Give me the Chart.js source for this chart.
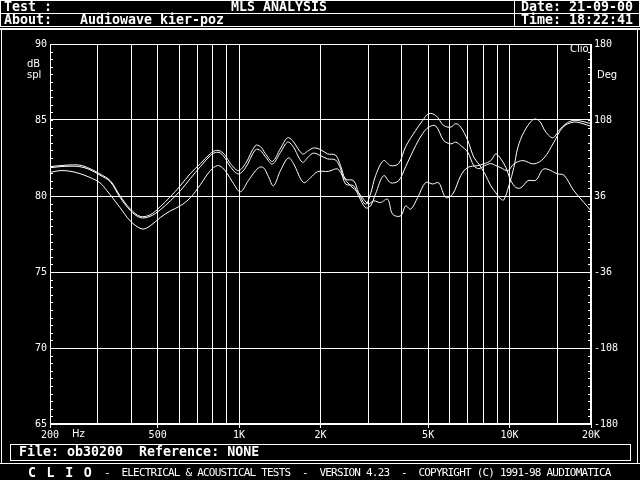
<!DOCTYPE html>
<html>
<head>
<meta charset="utf-8">
<script src="https://cdn.jsdelivr.net/npm/chart.js@4.4.0/dist/chart.umd.min.js"></script>
<style>
  html, body { margin: 0; padding: 0; background: #000; }
  #page { position: relative; width: 640px; height: 480px; overflow: hidden; background: #000; color: #fff;
          font-family: "DejaVu Sans Mono", monospace; }
  #c { position: absolute; left: 0; top: 0; }
  .t { position: absolute; white-space: pre; line-height: 12px; }
  .b { font-size: 13.3px; font-weight: bold; }
  .s { font-size: 10px; font-family: "DejaVu Sans", sans-serif; }
  .f { font-size: 11px; letter-spacing: -0.8px; }
  .h { position: absolute; background: #fff; height: 1px; }
  .v { position: absolute; background: #fff; width: 1px; }
</style>
</head>
<body>
<div id="page">
  <canvas id="c" width="640" height="480"></canvas>

  <!-- header -->
  <div class="h" style="left:0;top:0;width:640px"></div>
  <div class="h" style="left:0;top:13px;width:640px"></div>
  <div class="h" style="left:0;top:26px;width:640px"></div>
  <div class="h" style="left:0;top:28px;width:640px;height:2px"></div>
  <div class="v" style="left:0;top:0;height:27px"></div>
  <div class="v" style="left:639px;top:0;height:27px"></div>
  <div class="v" style="left:514px;top:0;height:27px"></div>
  <div class="t b" style="left:4px;top:1px">Test :</div>
  <div class="t b" style="left:231px;top:1px">MLS ANALYSIS</div>
  <div class="t b" style="left:521px;top:1px">Date: 21-09-00</div>
  <div class="t b" style="left:4px;top:14px">About:</div>
  <div class="t b" style="left:80px;top:14px">Audiowave kier-poz</div>
  <div class="t b" style="left:521px;top:14px">Time: 18:22:41</div>

  <!-- side borders of the main panel -->
  <div class="v" style="left:1px;top:28px;height:436px"></div>
  <div class="v" style="left:637px;top:28px;height:436px"></div>

  <!-- axis captions -->
  <div class="t s" style="left:27px;top:58px">dB</div>
  <div class="t s" style="left:27px;top:69px">spl</div>
  <div class="t s" style="left:597px;top:69px">Deg</div>
  <div class="t s" style="left:570px;top:43px">Clio</div>
  <div class="t s" style="left:72px;top:428px">Hz</div>

  <!-- file box and footer -->
  <div style="position:absolute;left:10px;top:444px;width:619px;height:15px;border:1px solid #fff"></div>
  <div class="t b" style="left:19px;top:446px">File: ob30200  Reference: NONE</div>
  <div class="h" style="left:0;top:463px;width:640px"></div>
  <div class="t b" style="left:28px;top:467px;letter-spacing:1.3px">C L I O</div>
  <div class="t f" style="left:104px;top:467px">-  ELECTRICAL &amp; ACOUSTICAL TESTS  -  VERSION 4.23  -  COPYRIGHT (C) 1991-98 AUDIOMATICA</div>
</div>

<script>
// frequency points (Hz) and levels (dB spl) for the three traces
var freqA = [200, 218, 237, 258, 281, 306, 334, 363, 396, 431, 469, 511, 557, 606, 660, 719, 783, 817, 852, 890, 928, 994,
  1056, 1149, 1199, 1251, 1328, 1422, 1509, 1575, 1715, 1806, 1884, 2000, 2123, 2273, 2372, 2475, 2650, 2765, 2936, 3063,
  3197, 3423, 3633, 3890, 4129, 4497, 4773, 5024, 5333, 5710, 6061, 6325, 6601, 7006, 7374, 7695, 8099, 8524, 8896, 9283,
  9524, 9939, 10372, 10736, 11299, 12198, 12837, 13626, 14463, 15222, 16160, 17154, 18367, 20000];
var splA = [81.93, 82.00, 82.04, 82.03, 81.80, 81.45, 81.01, 80.01, 79.15, 78.66, 78.76, 79.29, 79.95, 80.67, 81.47, 82.13, 82.79, 82.99, 82.96, 82.66, 82.15, 81.67,
  82.13, 83.32, 83.25, 82.79, 82.28, 83.12, 83.83, 83.65, 82.77, 82.99, 83.16, 83.06, 82.77, 82.69, 82.00, 81.12, 81.01, 80.23, 79.46, 80.15,
  81.34, 82.33, 82.00, 82.13, 83.25, 84.31, 84.97, 85.42, 85.30, 84.64, 84.53, 84.76, 84.53, 83.65, 82.55, 82.11, 81.47, 80.67, 80.21, 79.79,
  79.75, 80.67, 81.88, 83.21, 84.20, 85.02, 84.97, 84.20, 83.83, 84.31, 84.76, 84.97, 84.93, 84.76];

var freqB = [200, 218, 237, 258, 281, 306, 334, 363, 396, 431, 469, 511, 557, 606, 660, 719, 783, 817, 852, 890, 928, 994,
  1056, 1149, 1199, 1251, 1328, 1422, 1509, 1575, 1715, 1806, 1884, 2000, 2123, 2273, 2372, 2475, 2650, 2765, 2936, 3063,
  3197, 3423, 3633, 3890, 4129, 4497, 4773, 5024, 5333, 5710, 6061, 6325, 6601, 7006, 7374, 7695, 8099, 8524, 8896, 9283,
  9854, 10372, 11203, 12302, 13396, 14586, 15751, 17154, 18367, 20000];
var splB = [81.86, 81.93, 81.96, 81.93, 81.73, 81.37, 80.94, 79.91, 79.05, 78.58, 78.66, 79.09, 79.68, 80.34, 81.14, 81.93, 82.66, 82.86, 82.83, 82.46, 81.93, 81.45,
  81.86, 83.04, 82.99, 82.59, 82.11, 82.86, 83.54, 83.32, 82.22, 82.59, 82.82, 82.66, 82.44, 82.37, 81.80, 80.79, 80.67, 80.01, 79.22, 79.35,
  80.15, 81.34, 80.87, 81.01, 81.93, 83.32, 84.11, 84.53, 84.61, 83.65, 83.43, 83.54, 83.32, 82.88, 82.00, 81.80, 82.00, 82.13, 82.00, 81.86,
  81.67, 82.11, 82.33, 82.11, 82.49, 83.54, 84.53, 84.86, 84.80, 84.58];

var freqC = [200, 218, 237, 258, 281, 306, 325, 334, 363, 396, 438, 469, 511, 557, 606, 660, 719, 783, 831, 867, 905, 944,
  1011, 1082, 1178, 1230, 1284, 1340, 1422, 1522, 1589, 1730, 1837, 1950, 2141, 2312, 2434, 2583, 2765, 2886, 3012, 3143,
  3336, 3541, 3696, 3957, 4129, 4309, 4574, 4897, 5198, 5471, 5808, 6165, 6601, 7006, 7630, 8030, 8524, 8896, 9283, 9688,
  10110, 10555, 11014, 11696, 12514, 13396, 15093, 15887, 17301, 18842, 20000];
var splC = [81.55, 81.67, 81.63, 81.47, 81.22, 80.87, 80.34, 80.08, 79.24, 78.36, 77.83, 78.03, 78.58, 79.02, 79.35, 79.88, 80.74, 81.67, 82.00, 81.87, 81.47, 80.94,
  80.28, 81.01, 81.85, 81.87, 81.27, 80.67, 81.67, 82.51, 82.13, 80.89, 81.20, 81.60, 81.62, 81.78, 81.21, 80.67, 80.21, 79.79, 79.48, 79.68,
  79.57, 79.79, 78.80, 78.69, 79.35, 79.13, 79.90, 80.89, 80.79, 80.87, 79.90, 80.13, 81.34, 81.88, 82.00, 82.11, 82.33, 82.77, 82.44, 81.88,
  81.01, 80.56, 80.54, 81.01, 81.04, 81.78, 81.45, 81.37, 80.34, 79.57, 79.02];

// axis grid and labels
var gridFreqs = [200, 300, 400, 500, 600, 700, 800, 900, 1000, 2000, 3000, 4000, 5000, 6000, 7000, 8000, 9000, 10000, 15000, 20000];
var freqLabels = {200: '200', 500: '500', 1000: '1K', 2000: '2K', 5000: '5K', 10000: '10K', 20000: '20K'};
var dbTicks = [65, 70, 75, 80, 85, 90];
var degTicks = [-180, -108, -36, 36, 108, 180];

function pts(fs, vs) {
  return fs.map(function(f, i) { return {x: f, y: vs[i]}; });
}

var WHITE = '#ffffff';

// draws the plot frame and the small half-dB ticks inside both vertical axes
var framePlugin = {
  id: 'frame',
  afterDraw: function(chart) {
    var ctx = chart.ctx, a = chart.chartArea, y = chart.scales.y;
    ctx.save();
    ctx.strokeStyle = WHITE;
    ctx.lineWidth = 1;
    ctx.strokeRect(a.left + 0.5, a.top + 0.5, a.right - a.left - 1, a.bottom - a.top - 1);
    ctx.beginPath();
    for (var v = dbTicks[0]; v <= dbTicks[dbTicks.length - 1]; v += 0.5) {
      var py = Math.round(y.getPixelForValue(v)) + 0.5;
      ctx.moveTo(a.left, py); ctx.lineTo(a.left + 3, py);
      ctx.moveTo(a.right - 3, py); ctx.lineTo(a.right, py);
    }
    ctx.stroke();
    ctx.restore();
  }
};

var lineStyle = {borderColor: WHITE, borderWidth: 1, pointRadius: 0, tension: 0.35, fill: false};

new Chart(document.getElementById('c').getContext('2d'), {
  type: 'line',
  data: {
    datasets: [
      Object.assign({label: 'A', data: pts(freqA, splA)}, lineStyle),
      Object.assign({label: 'B', data: pts(freqB, splB)}, lineStyle),
      Object.assign({label: 'C', data: pts(freqC, splC)}, lineStyle)
    ]
  },
  options: {
    responsive: false,
    animation: false,
    devicePixelRatio: 1,
    layout: {padding: {left: 0, right: 0, top: 44, bottom: 36}},
    plugins: {legend: {display: false}, tooltip: {enabled: false}},
    scales: {
      x: {
        type: 'logarithmic',
        min: 200, max: 20000,
        afterFit: function(s) { s.height = 20; },
        afterBuildTicks: function(s) { s.ticks = gridFreqs.map(function(v) { return {value: v}; }); },
        grid: {
          color: WHITE, lineWidth: 1, drawTicks: true, tickLength: 4,
          tickColor: function(c) { return c.tick && freqLabels[c.tick.value] ? WHITE : 'rgba(0,0,0,0)'; }
        },
        border: {display: false},
        ticks: {
          color: WHITE, autoSkip: false, maxRotation: 0, minRotation: 0, padding: 1,
          font: {family: 'DejaVu Sans Mono', size: 10},
          callback: function(v) { return freqLabels[v] || ''; }
        }
      },
      y: {
        position: 'left',
        min: 65, max: 90,
        afterFit: function(s) { s.width = 50; },
        afterBuildTicks: function(s) { s.ticks = dbTicks.map(function(v) { return {value: v}; }); },
        grid: {color: WHITE, lineWidth: 1, drawTicks: false},
        border: {display: false},
        ticks: {color: WHITE, padding: 3, font: {family: 'DejaVu Sans Mono', size: 10}}
      },
      y2: {
        position: 'right',
        min: -180, max: 180,
        afterFit: function(s) { s.width = 49; },
        afterBuildTicks: function(s) { s.ticks = degTicks.map(function(v) { return {value: v}; }); },
        grid: {drawOnChartArea: false, drawTicks: false},
        border: {display: false},
        ticks: {color: WHITE, padding: 3, font: {family: 'DejaVu Sans Mono', size: 10}}
      }
    }
  },
  plugins: [framePlugin]
});
</script>
</body>
</html>
